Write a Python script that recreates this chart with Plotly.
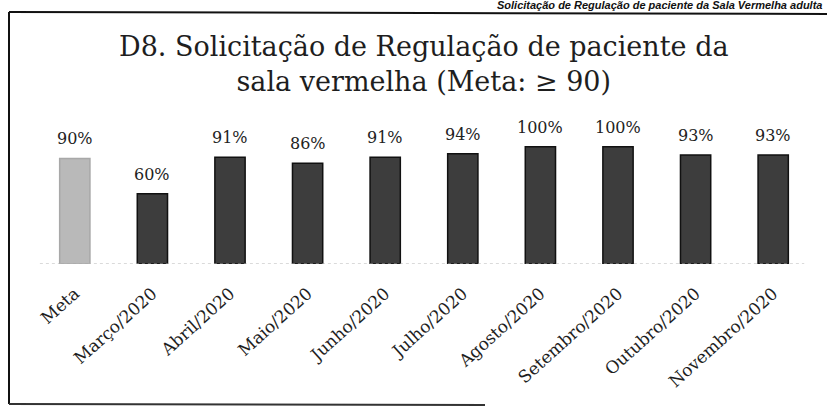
import plotly.graph_objects as go

categories = ["Meta", "Março/2020", "Abril/2020", "Maio/2020", "Junho/2020",
              "Julho/2020", "Agosto/2020", "Setembro/2020", "Outubro/2020", "Novembro/2020"]
values = [90, 60, 91, 86, 91, 94, 100, 100, 93, 93]
value_labels = ["90%", "60%", "91%", "86%", "91%", "94%", "100%", "100%", "93%", "93%"]

title_text = "D8. Solicitação de Regulação de paciente da<br>sala vermelha (Meta: ≥ 90)"
header_text = "Solicitação de Regulação de paciente da Sala Vermelha adulta"

W, H = 827, 409
L, R, T, B = 36, 15, 135, 145
PW, PH = W - L - R, H - T - B


def px(x):
    return (x - L) / PW


def py(y):
    return (H - B - y) / PH


bar_colors = ["#b9b9b9"] + ["#3d3d3d"] * (len(values) - 1)
line_colors = ["#a8a8a8"] + ["#111111"] * (len(values) - 1)

fig = go.Figure()
fig.add_trace(go.Bar(
    x=categories, y=values,
    marker=dict(color=bar_colors, line=dict(color=line_colors, width=1.5)),
    hoverinfo="skip",
))

serif = "DejaVu Serif"
annotations = []
for c, v, lab in zip(categories, values, value_labels):
    annotations.append(dict(
        x=c, y=v, xref="x", yref="y", text=lab, showarrow=False,
        yanchor="bottom", yshift=8,
        font=dict(family=serif, size=16, color="#222222"),
    ))

annotations.append(dict(
    x=px(424), y=py(64), xref="paper", yref="paper", text=title_text,
    showarrow=False, xanchor="center", yanchor="middle",
    font=dict(family=serif, size=27, color="#1e1e1e"),
))
annotations.append(dict(
    x=px(824), y=py(5), xref="paper", yref="paper", text="<b><i>" + header_text + "</i></b>",
    showarrow=False, xanchor="right", yanchor="middle",
    font=dict(family="Liberation Sans", size=11, color="#111111"),
))

shapes = [
    dict(type="line", xref="paper", yref="y", x0=0.005, x1=0.99, y0=0, y1=0,
         line=dict(color="#b5b5b5", width=1, dash="dot")),
    dict(type="line", xref="paper", yref="paper", x0=px(9), x1=px(9), y0=py(12), y1=py(404),
         line=dict(color="#111111", width=2)),
    dict(type="line", xref="paper", yref="paper", x0=px(9), x1=px(827), y0=py(12), y1=py(14),
         line=dict(color="#111111", width=2)),
    dict(type="line", xref="paper", yref="paper", x0=px(9), x1=px(485), y0=py(404), y1=py(405),
         line=dict(color="#333333", width=2)),
]

fig.update_layout(
    width=W, height=H,
    margin=dict(l=L, r=R, t=T, b=B),
    paper_bgcolor="white", plot_bgcolor="white",
    bargap=0.61,
    showlegend=False,
    annotations=annotations,
    shapes=shapes,
    xaxis=dict(
        tickangle=-42, showgrid=False, showline=False,
        ticks="outside", ticklen=12, tickcolor="rgba(0,0,0,0)",
        tickfont=dict(family=serif, size=17, color="#1e1e1e"),
        fixedrange=True,
    ),
    yaxis=dict(range=[0, 110], visible=False, fixedrange=True),
)

fig.write_html("out.html", config={"displayModeBar": False},
               post_script="document.body.style.margin='0';")
